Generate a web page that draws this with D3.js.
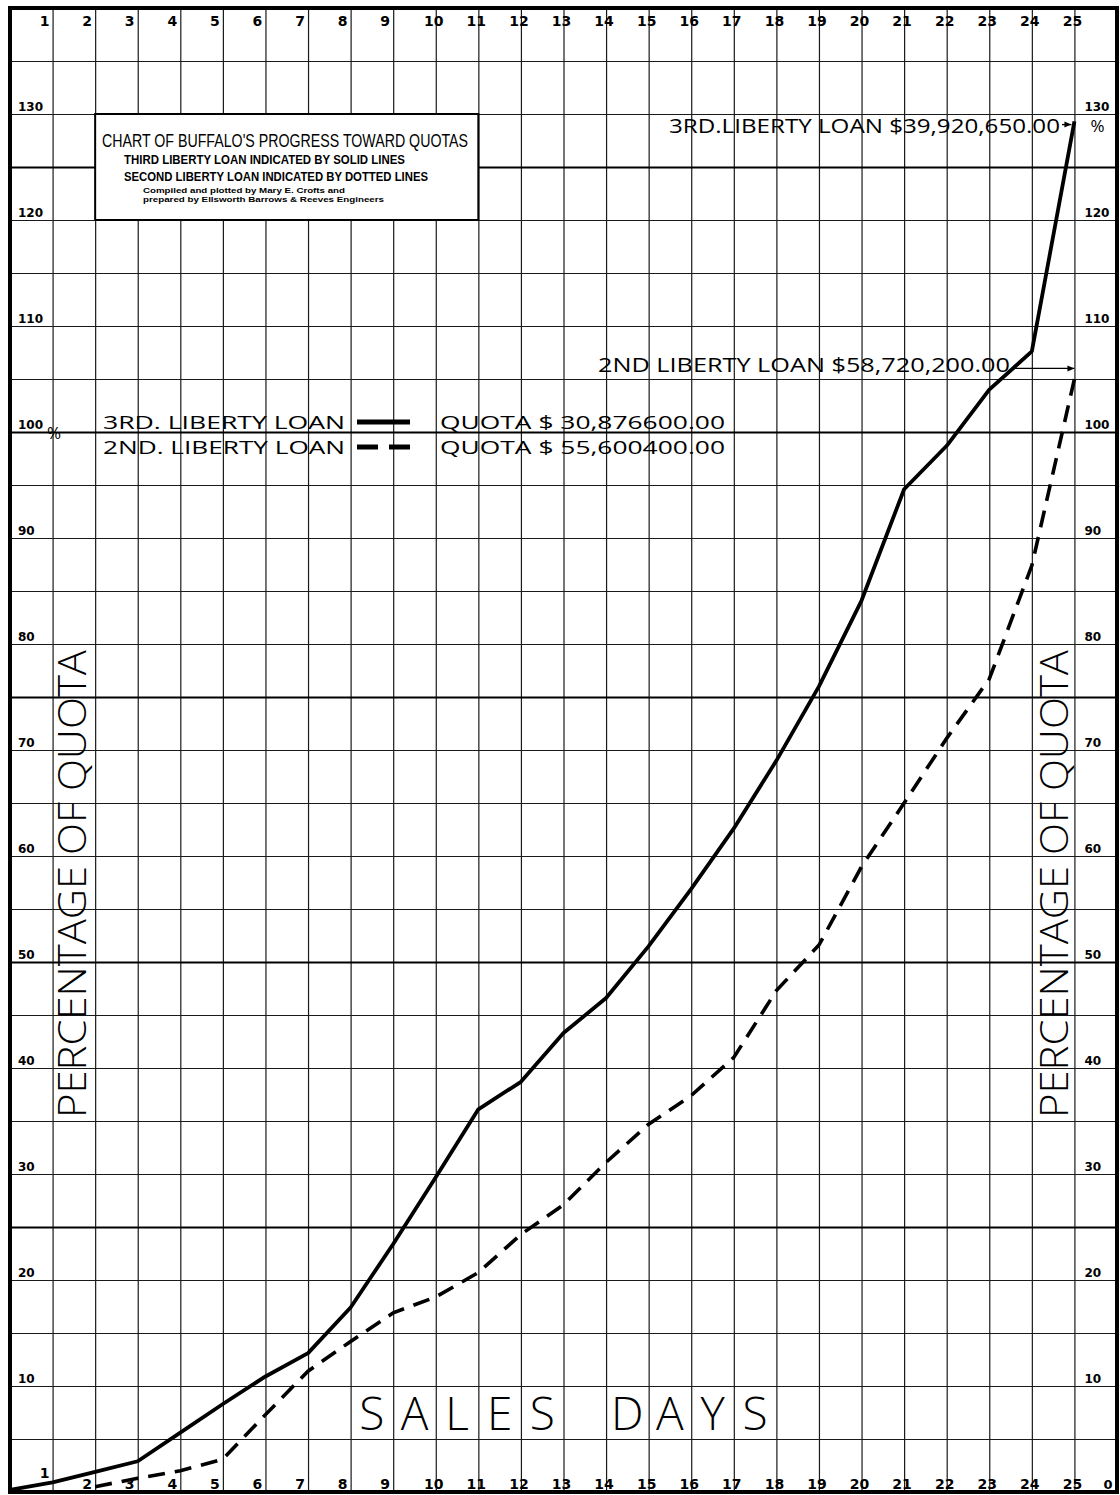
<!DOCTYPE html>
<html>
<head>
<meta charset="utf-8">
<script src="https://cdn.jsdelivr.net/npm/d3@7"></script>
<style>
  body { margin: 0; background: #fff; }
  svg { display: block; }
</style>
</head>
<body>
<script>
// chart data
var days = [0, 1, 2, 3, 4, 5, 6, 7, 8, 9, 10, 11, 12, 13, 14, 15, 16, 17, 18, 19, 20, 21, 22, 23, 24, 25];
var dayLabels = ["1", "2", "3", "4", "5", "6", "7", "8", "9", "10", "11", "12", "13",
  "14", "15", "16", "17", "18", "19", "20", "21", "22", "23", "24", "25"];
var pctLabels = [10, 20, 30, 40, 50, 60, 70, 80, 90, 100, 110, 120, 130];
var gridPct = [5, 10, 15, 20, 25, 30, 35, 40, 45, 50, 55, 60, 65, 70, 75, 80, 85, 90,
  95, 100, 105, 110, 115, 120, 125, 130, 135];
var heavyPct = [25, 50, 75, 100, 125];

// third liberty loan (solid), percent of quota by sales day
var thirdLoan = [0.2, 0.9, 1.9, 2.9, 5.6, 8.3, 10.9, 13.1, 17.4, 23.4, 29.7, 36.1, 38.7,
  43.3, 46.6, 51.5, 56.9, 62.6, 69.0, 76.0, 84.1, 94.6, 98.7, 104.0, 107.6, 129.3];
// second liberty loan (dotted), starts on day 2
var secondLoan = [null, null, 0.5, 1.3, 2.0, 3.1, 7.3, 11.4, 14.2, 16.9, 18.4, 20.7, 24.3,
  27.1, 31.1, 34.7, 37.4, 41.0, 47.3, 51.6, 59.0, 65.0, 71.1, 76.7, 87.4, 105.0];

var salesLetters = ["S", "A", "L", "E", "S", "", "D", "A", "Y", "S"];

var width = 1120;
var height = 1495;

var holder = d3.select("body")
    .append("svg")
    .attr("width", width)
    .attr("height", height);

var xScale = d3.scaleLinear().domain([0, 26]).range([10, 1117]);
var yScale = d3.scaleLinear().domain([0, 140]).range([1492, 8]);

var handFont = "'Open Sans', 'DejaVu Sans', sans-serif";
var tickFont = "'DejaVu Sans', sans-serif";

// grid lines drawn with axis generators
var vGrid = d3.axisBottom(xScale)
    .tickValues(days.slice(1))
    .tickSize(-(yScale(0) - yScale(140)))
    .tickFormat("");

var hGrid = d3.axisLeft(yScale)
    .tickValues(gridPct)
    .tickSize(-(xScale(26) - xScale(0)))
    .tickFormat("");

var gv = holder.append("g")
    .attr("transform", "translate(0," + yScale(0) + ")")
    .call(vGrid);

var gh = holder.append("g")
    .attr("transform", "translate(" + xScale(0) + ",0)")
    .call(hGrid);

[gv, gh].forEach(function(g) {
  g.select(".domain").remove();
  g.selectAll("line").attr("stroke", "#1a1a1a").attr("stroke-width", 1.2);
});

gh.selectAll(".tick line")
    .filter(function(d) { return heavyPct.indexOf(d) >= 0; })
    .attr("stroke", "#000")
    .attr("stroke-width", 2.2);

// series lines
var lineGen = d3.line()
    .defined(function(d) { return d != null; })
    .x(function(d, i) { return xScale(days[i]); })
    .y(function(d) { return yScale(d); });

holder.append("path")
    .datum(secondLoan)
    .attr("d", lineGen)
    .attr("fill", "none")
    .attr("stroke", "#000")
    .attr("stroke-width", 3.6)
    .attr("stroke-dasharray", "17,10");

holder.append("path")
    .datum(thirdLoan)
    .attr("d", lineGen)
    .attr("fill", "none")
    .attr("stroke", "#000")
    .attr("stroke-width", 3.8)
    .attr("stroke-linejoin", "round");

// outer frame
holder.append("rect")
    .attr("x", xScale(0))
    .attr("y", yScale(140))
    .attr("width", xScale(26) - xScale(0))
    .attr("height", yScale(0) - yScale(140))
    .attr("fill", "none")
    .attr("stroke", "#000")
    .attr("stroke-width", 4);

// legend box (white, covers the grid)
var box = holder.append("g");
box.append("rect")
    .attr("x", xScale(2))
    .attr("y", yScale(130))
    .attr("width", xScale(11) - xScale(2))
    .attr("height", yScale(120) - yScale(130))
    .attr("fill", "#fff")
    .attr("stroke", "#000")
    .attr("stroke-width", 2);

function boxText(txt, x, y, size, weight, len) {
  box.append("text")
      .attr("x", x)
      .attr("y", y)
      .attr("font-family", "'Liberation Sans Narrow', 'Liberation Sans', Arial, sans-serif")
      .attr("font-size", size)
      .attr("font-weight", weight)
      .attr("textLength", len)
      .attr("lengthAdjust", "spacingAndGlyphs")
      .text(txt);
}
boxText("CHART OF BUFFALO'S PROGRESS TOWARD QUOTAS", 102, 147, 18, 400, 366);
boxText("THIRD LIBERTY LOAN INDICATED BY SOLID LINES", 124, 164, 13, 700, 281);
boxText("SECOND LIBERTY LOAN INDICATED BY DOTTED LINES", 124, 181, 13, 700, 304);
boxText("Compiled and plotted by Mary E. Crofts and", 143, 193, 7, 700, 202);
boxText("prepared by Ellsworth Barrows & Reeves Engineers", 143, 202, 7, 700, 241);

// day labels, top row and bottom row
function dayX(i) {
  return i < 9 ? xScale(i + 1) - 8 : xScale(i + 1) - 2;
}
holder.append("g").selectAll("text")
    .data(dayLabels)
    .enter().append("text")
    .attr("x", function(d, i) { return dayX(i); })
    .attr("y", 26)
    .attr("text-anchor", "middle")
    .attr("font-family", tickFont)
    .attr("font-weight", 700)
    .attr("font-size", 14)
    .text(function(d) { return d; });

holder.append("g").selectAll("text")
    .data(dayLabels)
    .enter().append("text")
    .attr("x", function(d, i) { return dayX(i); })
    .attr("y", function(d, i) { return i == 0 ? 1478 : 1489; })
    .attr("text-anchor", "middle")
    .attr("font-family", tickFont)
    .attr("font-weight", 700)
    .attr("font-size", 14)
    .text(function(d) { return d; });

// percent labels, both sides
holder.append("g").selectAll("text")
    .data(pctLabels)
    .enter().append("text")
    .attr("x", 18)
    .attr("y", function(d) { return yScale(d) - 3; })
    .attr("font-family", tickFont)
    .attr("font-weight", 700)
    .attr("font-size", 12)
    .text(function(d) { return d; });

holder.append("g").selectAll("text")
    .data(pctLabels)
    .enter().append("text")
    .attr("x", xScale(25) + 10)
    .attr("y", function(d) { return yScale(d) - 3; })
    .attr("font-family", tickFont)
    .attr("font-weight", 700)
    .attr("font-size", 12)
    .text(function(d) { return d; });

holder.append("text")
    .attr("x", xScale(25) + 29).attr("y", 1489)
    .attr("font-family", tickFont).attr("font-weight", 700).attr("font-size", 13)
    .text("0");
holder.append("text")
    .attr("x", 47).attr("y", yScale(100) + 7)
    .attr("font-family", handFont).attr("font-size", 17)
    .text("%");
holder.append("text")
    .attr("x", xScale(25) + 16).attr("y", yScale(130) + 18)
    .attr("font-family", handFont).attr("font-size", 17)
    .text("%");

// hand lettered legend in the grid
function hand(txt, x, y, size, len, anchor) {
  return holder.append("text")
      .attr("x", x)
      .attr("y", y)
      .attr("font-family", handFont)
      .attr("font-size", size)
      .attr("text-anchor", anchor || "start")
      .attr("textLength", len)
      .attr("lengthAdjust", "spacingAndGlyphs")
      .text(txt);
}
hand("3RD. LIBERTY LOAN", 103, yScale(100) - 3, 18, 242);
hand("2ND. LIBERTY LOAN", 103, yScale(100) + 22, 18, 242);
hand("QUOTA $ 30,876600.00", 440, yScale(100) - 3, 18, 285);
hand("QUOTA $ 55,600400.00", 440, yScale(100) + 22, 18, 285);

holder.append("line")
    .attr("x1", 357).attr("x2", 410)
    .attr("y1", yScale(100) - 10).attr("y2", yScale(100) - 10)
    .attr("stroke", "#000").attr("stroke-width", 5);
holder.append("line")
    .attr("x1", 357).attr("x2", 410)
    .attr("y1", yScale(100) + 15).attr("y2", yScale(100) + 15)
    .attr("stroke", "#000").attr("stroke-width", 5)
    .attr("stroke-dasharray", "21,11");

// totals at the end of each campaign
hand("3RD.LIBERTY LOAN $39,920,650.00", 669, yScale(129) + 8, 20, 391);
hand("2ND LIBERTY LOAN $58,720,200.00", 598, yScale(106) + 4, 20, 412);

function arrow(x1, x2, yv) {
  var yy = yScale(yv);
  holder.append("line")
      .attr("x1", x1).attr("x2", x2)
      .attr("y1", yy).attr("y2", yy)
      .attr("stroke", "#000").attr("stroke-width", 1.3);
  holder.append("path")
      .attr("d", "M" + x2 + "," + yy + "l-7,-3l0,6z")
      .attr("fill", "#000");
}
arrow(1012, xScale(25), 106);
arrow(1062, xScale(25) - 3, 129);

// axis titles
holder.append("g").selectAll("text")
    .data(salesLetters)
    .enter().append("text")
    .attr("x", function(d, i) { return xScale(8 + i + 0.5); })
    .attr("y", (yScale(10) + yScale(5)) / 2 + 17)
    .attr("text-anchor", "middle")
    .attr("font-family", handFont)
    .attr("font-weight", 300)
    .attr("font-size", 46)
    .text(function(d) { return d; });

[72, 1054].forEach(function(cx) {
  holder.append("text")
      .attr("transform", "translate(" + (cx + 14) + "," + 884 + ") rotate(-90)")
      .attr("text-anchor", "middle")
      .attr("font-family", handFont)
      .attr("font-weight", 300)
      .attr("font-size", 38)
      .attr("textLength", 468)
      .attr("lengthAdjust", "spacingAndGlyphs")
      .text("PERCENTAGE OF QUOTA");
});
</script>
</body>
</html>
